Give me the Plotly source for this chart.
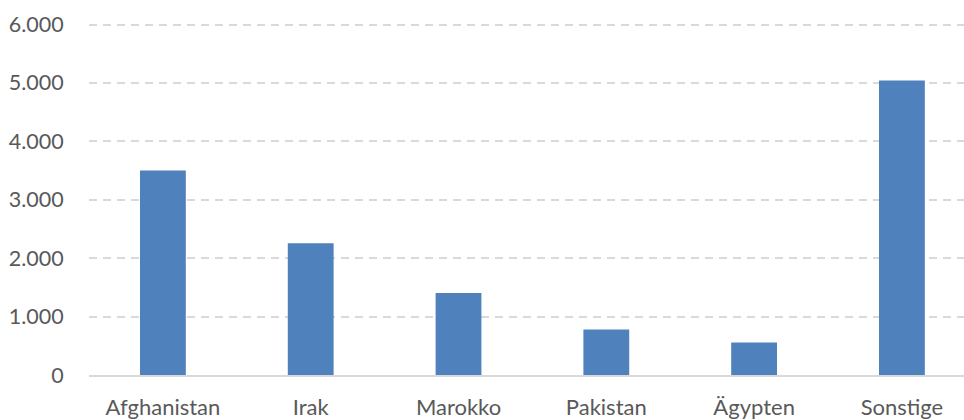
import plotly.graph_objects as go

# Categories and counts
countries = ["Afghanistan", "Irak", "Marokko", "Pakistan", "Ägypten", "Sonstige"]
counts = [3500, 2255, 1405, 777, 556, 5043]

y_ticks = [0, 1000, 2000, 3000, 4000, 5000, 6000]

BAR_COLOR = "#4F81BD"
TEXT_COLOR = "#595959"
GRID_COLOR = "#D9D9D9"
FONT = "Lato, Open Sans, sans-serif"

fig = go.Figure(
    go.Bar(
        x=list(range(len(countries))),
        y=counts,
        width=0.31,
        marker=dict(color=BAR_COLOR, line=dict(width=0)),
        hovertext=countries,
    )
)

fig.update_layout(
    width=964,
    height=420,
    margin=dict(l=89, r=0, t=21, b=41),
    paper_bgcolor="white",
    plot_bgcolor="white",
    separators=",.",
    showlegend=False,
    font=dict(family=FONT, size=21, color=TEXT_COLOR),
)

fig.update_xaxes(
    tickmode="array",
    tickvals=list(range(len(countries))),
    ticktext=countries,
    range=[-0.5, 5.42],
    showgrid=False,
    zeroline=False,
    showline=True,
    linecolor=GRID_COLOR,
    linewidth=2,
    ticks="outside",
    ticklen=12,
    tickcolor="rgba(0,0,0,0)",
    tickfont=dict(family=FONT, size=22, color=TEXT_COLOR),
)

# headroom above 6.000 so its gridline is drawn
fig.update_yaxes(
    range=[0, 6060],
    tickmode="array",
    tickvals=y_ticks,
    tickformat=",d",
    showgrid=True,
    gridcolor=GRID_COLOR,
    gridwidth=1.5,
    griddash="8px,6px",
    zeroline=False,
    showline=False,
    ticks="outside",
    ticklen=20,
    tickcolor="rgba(0,0,0,0)",
    tickfont=dict(family=FONT, size=21.5, color=TEXT_COLOR),
)

fig.write_html("out.html")
